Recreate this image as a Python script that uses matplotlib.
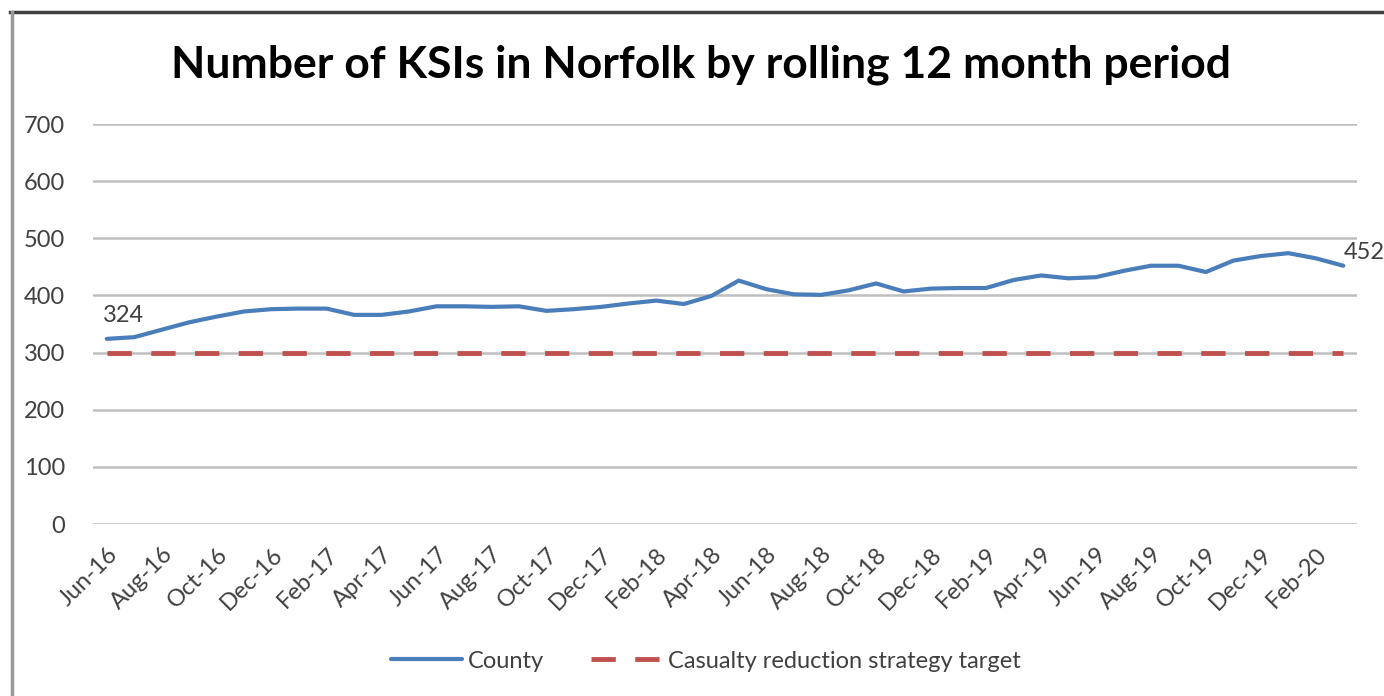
import matplotlib.pyplot as plt
from matplotlib.lines import Line2D

# rolling 12 month KSI totals, Jun-16 .. Mar-20
months = [
    "Jun-16", "Jul-16", "Aug-16", "Sep-16", "Oct-16", "Nov-16", "Dec-16",
    "Jan-17", "Feb-17", "Mar-17", "Apr-17", "May-17", "Jun-17", "Jul-17",
    "Aug-17", "Sep-17", "Oct-17", "Nov-17", "Dec-17", "Jan-18", "Feb-18",
    "Mar-18", "Apr-18", "May-18", "Jun-18", "Jul-18", "Aug-18", "Sep-18",
    "Oct-18", "Nov-18", "Dec-18", "Jan-19", "Feb-19", "Mar-19", "Apr-19",
    "May-19", "Jun-19", "Jul-19", "Aug-19", "Sep-19", "Oct-19", "Nov-19",
    "Dec-19", "Jan-20", "Feb-20", "Mar-20",
]
county = [
    324, 327, 340, 353, 363, 372, 376, 377, 377, 366, 366, 372, 381, 381,
    380, 381, 373, 376, 380, 386, 391, 385, 399, 426, 411, 402, 401, 409,
    421, 407, 412, 413, 413, 427, 435, 430, 432, 443, 452, 452, 441, 461,
    469, 474, 465, 452,
]
target = [300] * len(months)

BLUE = "#4A7EBB"
RED = "#C0504D"
TXT = "#404040"
FS = 17

fig = plt.figure(figsize=(13.84, 6.96), dpi=100)
ax = fig.add_axes([0.0672, 0.2471, 0.9133, 0.5747])

x = list(range(len(months)))
ax.plot(x, county, color=BLUE, lw=3, label="County", zorder=3,
        solid_capstyle="round")
ax.plot(x, target, color=RED, lw=3.5, linestyle=(0, (5, 4)),
        label="Casualty reduction strategy target", zorder=2)

ax.set_xlim(-0.5, len(months) - 0.5)
ax.set_ylim(0, 700)
ax.set_yticks(range(0, 701, 100))
ax.grid(axis="y", color="#BFBFBF", lw=1.8, zorder=0)
ax.set_axisbelow(True)
for s in ax.spines.values():
    s.set_visible(False)

ax.set_xticks(x[::2])
ax.set_xticklabels(months[::2], rotation=45, ha="right", va="top",
                   rotation_mode="anchor")
ax.tick_params(axis="both", length=0, labelsize=FS, labelcolor=TXT,
               labelfontfamily="Lato")
ax.tick_params(axis="y", pad=20)
ax.tick_params(axis="x", pad=14)

# end point labels
ax.annotate(str(county[0]), (x[0], county[0]), xytext=(-3, 9),
            textcoords="offset points", fontsize=FS, color=TXT,
            family="Lato", ha="left", va="bottom")
ax.annotate(str(county[-1]), (x[-1], county[-1]), xytext=(0, 2),
            textcoords="offset points", fontsize=FS, color=TXT,
            family="Lato", ha="left", va="bottom")

fig.text(0.5065, 0.9066, "Number of KSIs in Norfolk by rolling 12 month period",
         ha="center", va="center", fontsize=32, fontweight="bold",
         family="Lato", color="black")

fig.legend(loc="center", bbox_to_anchor=(0.51, 0.05), ncol=2, frameon=False,
           prop={"family": "Lato", "size": FS},
           handlelength=3.0, handletextpad=0.25, columnspacing=2.0,
           labelcolor=TXT)

# chart border
fig.add_artist(Line2D([10 / 1384, 1], [1 - 12 / 696, 1 - 12 / 696],
                      color="#404040", lw=2.5, transform=fig.transFigure))
fig.add_artist(Line2D([12 / 1384, 12 / 1384], [0, 1 - 12 / 696],
                      color="#999999", lw=2.5, transform=fig.transFigure))

fig.savefig("out.png", dpi=100)
